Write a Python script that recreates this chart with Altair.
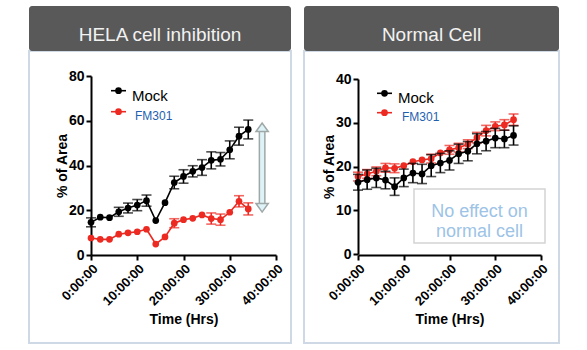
import altair as alt
import pandas as pd

TIME = [0, 2, 4, 6, 8, 10, 12, 14, 16, 18, 20, 22, 24, 26, 28, 30, 32, 34]

HELA_MOCK = [14.6, 16.9, 16.7, 19.3, 21.0, 22.3, 24.3, 15.4, 23.4, 32.4, 35.1, 37.4, 39.1, 42.3, 42.8, 47.0, 53.1, 56.1]
HELA_MOCK_ERR = [2.0, 0.5, 0.5, 2.0, 2.2, 2.5, 2.5, 0.5, 0.5, 2.8, 3.0, 2.5, 3.5, 3.8, 3.0, 4.0, 4.0, 4.2]
HELA_FM = [7.6, 7.0, 7.0, 9.3, 9.9, 10.4, 11.5, 4.9, 8.1, 14.2, 15.8, 16.4, 17.9, 16.3, 15.8, 19.1, 24.0, 20.6]
HELA_FM_ERR = [0.5, 0.5, 0.5, 0.5, 0.5, 0.5, 0.5, 0.5, 0.5, 2.0, 0.6, 0.6, 0.6, 2.5, 2.5, 0.6, 2.5, 2.7]

NORM_MOCK = [16.4, 17.0, 17.4, 16.9, 15.4, 17.4, 18.5, 18.3, 20.2, 20.8, 21.4, 22.9, 23.5, 25.2, 25.8, 26.5, 26.3, 27.1]
NORM_MOCK_ERR = [1.8, 2.2, 2.2, 2.0, 2.0, 2.0, 2.2, 2.2, 2.5, 2.2, 2.2, 2.2, 2.2, 2.3, 2.2, 2.2, 2.0, 2.2]
NORM_FM = [17.7, 18.3, 18.9, 19.7, 19.6, 20.2, 21.1, 21.5, 21.8, 23.1, 23.8, 24.3, 25.1, 26.6, 28.2, 29.2, 29.5, 30.7]
NORM_FM_ERR = [1.0, 1.0, 1.0, 1.0, 1.0, 0.6, 0.6, 0.6, 1.0, 0.6, 1.0, 1.0, 1.0, 1.2, 1.2, 1.0, 1.2, 1.3]

COLORS = {"Mock": "#000000", "FM301": "#ec2a22"}
X_TICKS = [0, 10, 20, 30, 40]
HELA_Y_TICKS = [0, 20, 40, 60, 80]
NORM_Y_TICKS = [0, 10, 20, 30, 40]
TITLES = ["HELA cell inhibition", "Normal Cell"]
NOTE = ["No effect on", "normal cell"]
ARROW = {"t": 37, "lo": 21.1, "hi": 57.1}

FONT = "Liberation Sans"
ONE = pd.DataFrame({"a": [0]})

# page geometry (absolute px)
L_ORIGIN = (91, 76)
R_ORIGIN = (358, 76)
L_W, L_H = 185, 179
R_W, R_H = 183, 179


def series_df(vals, errs):
    return pd.DataFrame({
        "t": TIME,
        "v": vals,
        "lo": [v - e for v, e in zip(vals, errs)],
        "hi": [v + e for v, e in zip(vals, errs)],
        "err": errs,
    })


def make_axis(values, **kw):
    return alt.Axis(
        values=values, grid=False, domainColor="black", domainWidth=2, tickColor="black",
        tickWidth=2, tickSize=5, labelFont=FONT, labelFontWeight="bold", labelColor="black",
        labelOverlap=False, titleFont=FONT, titleFontWeight="bold", titleColor="black", **kw)


def rect(o, x, x2, y, y2, **kw):
    return alt.Chart(ONE).mark_rect(**kw).encode(
        x=alt.value(x - o[0]), x2=alt.value(x2 - o[0]),
        y=alt.value(y - o[1]), y2=alt.value(y2 - o[1]))


def text(o, x, y, s, **kw):
    return alt.Chart(ONE).mark_text(**kw).encode(
        x=alt.value(x - o[0]), y=alt.value(y - o[1]), text=alt.value(s))


def rule(o, x, x2, y, **kw):
    return alt.Chart(ONE).mark_rule(**kw).encode(
        x=alt.value(x - o[0]), x2=alt.value(x2 - o[0]), y=alt.value(y - o[1]))


def dot(o, x, y, color):
    return alt.Chart(ONE).mark_point(filled=True, color=color, size=45, opacity=1).encode(
        x=alt.value(x - o[0]), y=alt.value(y - o[1]))


def frame(o, x0, x1, title):
    return [
        rect(o, x0, x1, 51, 343, filled=False, stroke="#cfd9e5", strokeWidth=2),
        rect(o, x0, x1, 6, 51, fill="#595959", cornerRadius=3),
        text(o, (x0 + x1) / 2, 35, title, font=FONT, fontSize=19, color="#f2f2f2", align="center"),
    ]


def legend(o, lx, ly1, ly2, tx1, tx2):
    return [
        rule(o, lx, lx + 15, ly1, color="black", strokeWidth=1.6),
        dot(o, lx + 7.5, ly1, "black"),
        text(o, tx1, ly1 + 5, "Mock", font=FONT, fontSize=15, color="black", align="left"),
        rule(o, lx, lx + 15, ly2, color=COLORS["FM301"], strokeWidth=1.6),
        dot(o, lx + 7.5, ly2, COLORS["FM301"]),
        text(o, tx2, ly2 + 4.5, "FM301", font=FONT, fontSize=12, color="#1f5fb0", align="left"),
    ]


def data_layers(series_data, xs, ys, yticks):
    xaxis = make_axis(X_TICKS, labelAngle=315, labelFontSize=13,
                      labelExpr="datum.value + ':00:00'", title="Time (Hrs)",
                      titleFontSize=14, titlePadding=5)
    yaxis = make_axis(yticks, labelFontSize=14, labelPadding=2, title="% of Area",
                      titleFontSize=14, titlePadding=-1)
    X = lambda f: alt.X(f, scale=xs, axis=xaxis)
    Y = lambda f: alt.Y(f, scale=ys, axis=yaxis)
    layers = []
    for name in ["FM301", "Mock"]:
        vals, errs = series_data[name]
        c = COLORS[name]
        base = alt.Chart(series_df(vals, errs))
        eb = base.transform_filter("datum.err > 0.8")
        layers += [
            base.mark_line(color=c, strokeWidth=1.6).encode(x=X("t:Q"), y=Y("v:Q")),
            eb.mark_rule(color=c, strokeWidth=1.6).encode(x=X("t:Q"), y=Y("lo:Q"), y2="hi:Q"),
            eb.mark_tick(color=c, orient="horizontal", size=10, thickness=1.6).encode(
                x=X("t:Q"), y=Y("lo:Q")),
            eb.mark_tick(color=c, orient="horizontal", size=10, thickness=1.6).encode(
                x=X("t:Q"), y=Y("hi:Q")),
            base.mark_point(filled=True, color=c, size=45, opacity=1).encode(
                x=X("t:Q"), y=Y("v:Q")),
        ]
    return layers, X, Y


# ---- left panel
lxs = alt.Scale(domain=[0, 40], nice=False, zero=False)
lys = alt.Scale(domain=[0, 80], nice=False, zero=False)
l_layers, LX, LY = data_layers({"Mock": (HELA_MOCK, HELA_MOCK_ERR),
                                "FM301": (HELA_FM, HELA_FM_ERR)}, lxs, lys, HELA_Y_TICKS)
adf = pd.DataFrame({"t": [ARROW["t"]], "lo": [ARROW["lo"]], "hi": [ARROW["hi"]]})
ab = alt.Chart(adf)
arrow = [
    ab.mark_rule(color="#9fa7a7", strokeWidth=7).encode(x=LX("t:Q"), y=LY("lo:Q"), y2="hi:Q"),
    ab.mark_rule(color="#def3f7", strokeWidth=4).encode(x=LX("t:Q"), y=LY("lo:Q"), y2="hi:Q"),
    ab.mark_point(shape="M-1,0.7L0,-0.7L1,0.7Z", size=150, filled=True, fill="#def3f7",
                  stroke="#9fa7a7", strokeWidth=1.5, opacity=1).encode(x=LX("t:Q"), y=LY("hi:Q")),
    ab.mark_point(shape="M-1,-0.7L0,0.7L1,-0.7Z", size=150, filled=True, fill="#def3f7",
                  stroke="#9fa7a7", strokeWidth=1.5, opacity=1).encode(x=LX("t:Q"), y=LY("lo:Q")),
]
left = alt.layer(
    *frame(L_ORIGIN, 29, 291, TITLES[0]),
    *l_layers, *arrow,
    *legend(L_ORIGIN, 111, 90.7, 111.7, 132, 135),
).properties(width=L_W, height=L_H)

# ---- right panel
rxs = alt.Scale(domain=[0, 40], nice=False, zero=False)
rys = alt.Scale(domain=[0, 40], range=[178, 3], nice=False, zero=False)
r_layers, RX, RY = data_layers({"Mock": (NORM_MOCK, NORM_MOCK_ERR),
                                "FM301": (NORM_FM, NORM_FM_ERR)}, rxs, rys, NORM_Y_TICKS)
right = alt.layer(
    *frame(R_ORIGIN, 304, 559, TITLES[1]),
    *r_layers,
    rect(R_ORIGIN, 414, 545, 189, 243, fill="white", stroke="#d3d3d3", strokeWidth=1.5),
    text(R_ORIGIN, 479.5, 212, NOTE[0], font=FONT, fontSize=18, color="#9dc3e6", align="center"),
    text(R_ORIGIN, 479.5, 232, NOTE[1], font=FONT, fontSize=18, color="#9dc3e6", align="center"),
    *legend(R_ORIGIN, 377, 93.3, 112.7, 398, 402),
).properties(width=R_W, height=R_H)

# content bounds: border strokes reach x 28..560, headers start at y 6, border bottom 344
chart = alt.hconcat(left, right, spacing=R_ORIGIN[0] - L_ORIGIN[0] - L_W, bounds="flush").properties(
    autosize=alt.AutoSizeParams(type="pad"),
    padding={"left": 28, "top": 6, "right": 27, "bottom": 6},
    background="white",
).configure_view(strokeWidth=0)

chart.save("out.html", embed_options={"renderer": "svg", "actions": False})
